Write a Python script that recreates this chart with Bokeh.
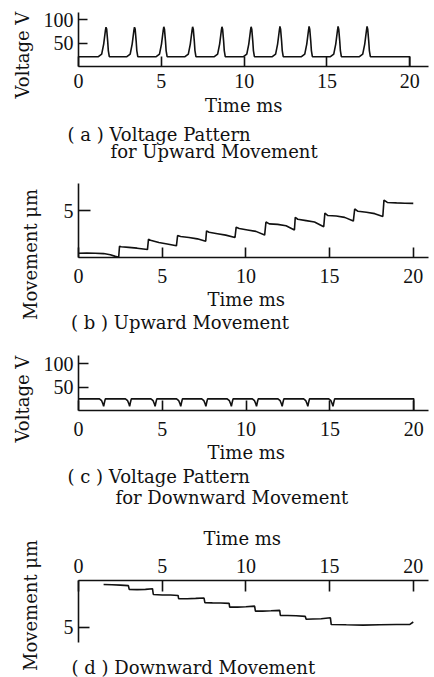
from bokeh.plotting import figure
from bokeh.models import Range1d, FixedTicker, Title
from bokeh.layouts import column
from bokeh.embed import file_html
from bokeh.resources import INLINE

# ---------------- data ----------------
time_ticks = [0, 5, 10, 15, 20]
volt_ticks = [50, 100]
move_ticks = [5]

# (a) voltage pattern for upward movement: pulse peak times (ms) and peak voltages (V)
up_pulse_times = [1.66, 3.38, 5.15, 6.89, 8.66, 10.42, 12.16, 13.92, 15.67, 17.42]
up_pulse_peaks = [84, 84, 85, 85, 85, 85, 86, 86, 86, 86]
up_base_v = 21
up_shape_dt = [-0.46, -0.26, -0.14, -0.04, 0.0, 0.04, 0.10, 0.14, 0.20]
up_shape_v = [21, 26.5, 48, 76, None, 80, 55, 34, 21]   # None = pulse peak
up_end_t = 20.0

# (b) upward movement (ms, um)
up_move_t = [0.0, 0.5, 1.0, 1.5, 1.9, 2.2, 2.4,
             2.45, 2.55, 3.0, 3.5, 4.12,
             4.18, 4.3, 4.8, 5.3, 5.85,
             5.92, 6.1, 6.6, 7.1, 7.6,
             7.65, 7.8, 8.3, 8.8, 9.35,
             9.42, 9.6, 10.1, 10.6, 11.12,
             11.2, 11.4, 11.9, 12.4, 12.9,
             12.95, 13.1, 13.6, 14.1, 14.65,
             14.72, 14.9, 15.4, 15.9, 16.42,
             16.5, 16.7, 17.2, 17.7, 18.18,
             18.25, 18.45, 19.0, 19.5, 20.0]
up_move_um = [0.45, 0.48, 0.45, 0.42, 0.3, 0.12, 0.02,
              1.2, 1.15, 1.08, 1.0, 0.85,
              1.95, 1.85, 1.6, 1.45, 1.25,
              2.35, 2.25, 2.15, 2.0, 1.75,
              2.85, 2.7, 2.55, 2.4, 2.15,
              3.25, 3.1, 2.95, 2.8, 2.4,
              3.8, 3.6, 3.55, 3.4, 2.95,
              4.3, 4.1, 3.95, 3.8, 3.3,
              4.75, 4.5, 4.45, 4.3, 3.9,
              5.2, 4.95, 4.85, 4.7, 4.4,
              6.15, 5.9, 5.85, 5.82, 5.8]

# (c) voltage pattern for downward movement: dip times (ms) and dip minima (V)
down_dip_times = [1.50, 3.05, 4.57, 6.10, 7.60, 9.12, 10.62, 12.15, 13.68, 15.18]
down_dip_min = [9, 9, 9, 9, 9, 9, 9, 9, 9, 9]
down_base_v = 25
down_shape_dt = [-0.25, -0.12, -0.04, 0.0, 0.04, 0.10]
down_shape_v = [25, 21, 14, None, 16, 25]             # None = dip minimum
down_end_t = 20.0

# (d) downward movement (ms, um; axis points downward)
down_move_t = [1.5, 2.0, 2.5, 2.98,
               3.03, 3.5, 4.0, 4.42,
               4.47, 5.0, 5.5, 5.95,
               5.98, 6.5, 7.0, 7.5,
               7.55, 8.0, 8.5, 9.0,
               9.03, 9.5, 10.0, 10.52,
               10.57, 11.0, 11.5, 12.02,
               12.06, 12.5, 13.0, 13.55,
               13.6, 14.0, 14.5, 15.05,
               15.1, 16.0, 17.0, 18.0, 19.0, 19.8, 20.0]
down_move_um = [0.43, 0.45, 0.5, 0.55,
                0.95, 0.98, 0.95, 0.88,
                1.5, 1.55, 1.55, 1.6,
                1.95, 1.95, 1.92, 1.88,
                2.38, 2.4, 2.42, 2.45,
                2.85, 2.85, 2.82, 2.75,
                3.28, 3.28, 3.25, 3.2,
                3.75, 3.76, 3.78, 3.85,
                4.15, 4.12, 4.1, 4.0,
                4.72, 4.75, 4.78, 4.75, 4.72, 4.7, 4.45]

# ---------------- build traces ----------------
def pulse_trace(times, extremes, base, dts, vs, t_end):
    xs, ys = [0.0], [base]
    for t, ext in zip(times, extremes):
        for dt, v in zip(dts, vs):
            xs.append(t + dt)
            ys.append(ext if v is None else v)
    xs += [t_end, t_end]
    ys += [base, 0]
    return xs, ys

a_x, a_y = pulse_trace(up_pulse_times, up_pulse_peaks, up_base_v, up_shape_dt, up_shape_v, up_end_t)
c_x, c_y = pulse_trace(down_dip_times, down_dip_min, down_base_v, down_shape_dt, down_shape_v, down_end_t)

LABEL_FONT = "DejaVu Serif"
LABEL_SIZE = "18px"
TICK_FONT = "Liberation Serif"
TICK_SIZE = "20px"
INK = "#111111"
LEFT = 78
RIGHT = 6


def make_fig(h, top, bottom, x_end, y_range, yticks, tick_len, x_standoff, x_loc="below"):
    p = figure(width=434, height=h, output_backend="svg", toolbar_location=None,
               x_range=Range1d(0, x_end), y_range=y_range,
               min_border_top=top, min_border_bottom=bottom,
               min_border_left=LEFT, min_border_right=RIGHT,
               x_axis_location=x_loc)
    p.grid.visible = False
    p.outline_line_color = None
    p.background_fill_color = "white"
    p.border_fill_color = "white"
    for ax in (p.xaxis[0], p.yaxis[0]):
        ax.axis_line_color = INK
        ax.axis_line_width = 1.6
        ax.major_tick_line_color = INK
        ax.major_tick_line_width = 1.6
        ax.major_tick_out = 0
        ax.minor_tick_line_color = None
        ax.major_label_text_font = TICK_FONT
        ax.major_label_text_font_size = TICK_SIZE
        ax.major_label_text_color = INK
    p.xaxis.ticker = FixedTicker(ticks=time_ticks)
    p.yaxis.ticker = FixedTicker(ticks=yticks)
    p.xaxis.major_tick_in = tick_len[0]
    p.yaxis.major_tick_in = tick_len[1]
    p.xaxis.major_label_standoff = x_standoff
    p.yaxis.major_label_standoff = 5
    return p


def add_title(p, text, offset, standoff, side="below", valign="bottom"):
    t = Title(text=text, align="left", offset=offset, standoff=standoff,
              vertical_align=valign, text_font=LABEL_FONT, text_font_size=LABEL_SIZE,
              text_font_style="normal", text_color=INK)
    p.add_layout(t, side)

# (a) figure: canvas y 0..168
pa = make_fig(168, 12, 102, 21.13, Range1d(0, 115.6), volt_ticks, (10, 9), 7)
pa.line(a_x, a_y, line_color=INK, line_width=1.6)
add_title(pa, "Voltage V", -32, 12, side="left", valign="top")
add_title(pa, "Time ms", 126.6, 4.0)
add_title(pa, "( a ) Voltage Pattern", -11, 7.6)
add_title(pa, "for Upward Movement", 32, -15.6, valign="top")

# (b) figure: canvas y 168..338
pb = make_fig(170, 15, 81, 20.91, Range1d(0, 7.93), move_ticks, (10, 12), 11)
pb.line(up_move_t, up_move_um, line_color=INK, line_width=1.6)
add_title(pb, "Movement \u03bcm", -62.5, 35, side="left", valign="top")
add_title(pb, "Time ms", 129.1, 1.6)
add_title(pb, "( b ) Upward Movement", -7.5, -0.6)

# (c) figure: canvas y 338..511
pc = make_fig(173, 17, 101, 20.88, Range1d(0, 117.8), volt_ticks, (10, 10), 11)
pc.line(c_x, c_y, line_color=INK, line_width=1.6)
add_title(pc, "Voltage V", -32, 12, side="left", valign="top")
add_title(pc, "Time ms", 129.1, 3.2)
add_title(pc, "( c ) Voltage Pattern", -11, 0.2)
add_title(pc, "for Downward Movement", 37, -5.2)

# (d) figure: canvas y 511..677 (x axis on top, movement axis pointing down)
pd_ = make_fig(166, 69, 22, 20.91, Range1d(8.04, 0), move_ticks, (11, 11), 8, x_loc="above")
pd_.yaxis.bounds = (0, 6.65)
pd_.line(down_move_t, down_move_um, line_color=INK, line_width=1.6)
add_title(pd_, "Movement \u03bcm", -15.5, 35, side="left", valign="top")
add_title(pd_, "Time ms", 125.1, 13.3, side="above")
add_title(pd_, "( d ) Downward Movement", -7, -1.5)

layout = column(pa, pb, pc, pd_, spacing=0)

with open("out.html", "w") as f:
    f.write(file_html(layout, INLINE))
